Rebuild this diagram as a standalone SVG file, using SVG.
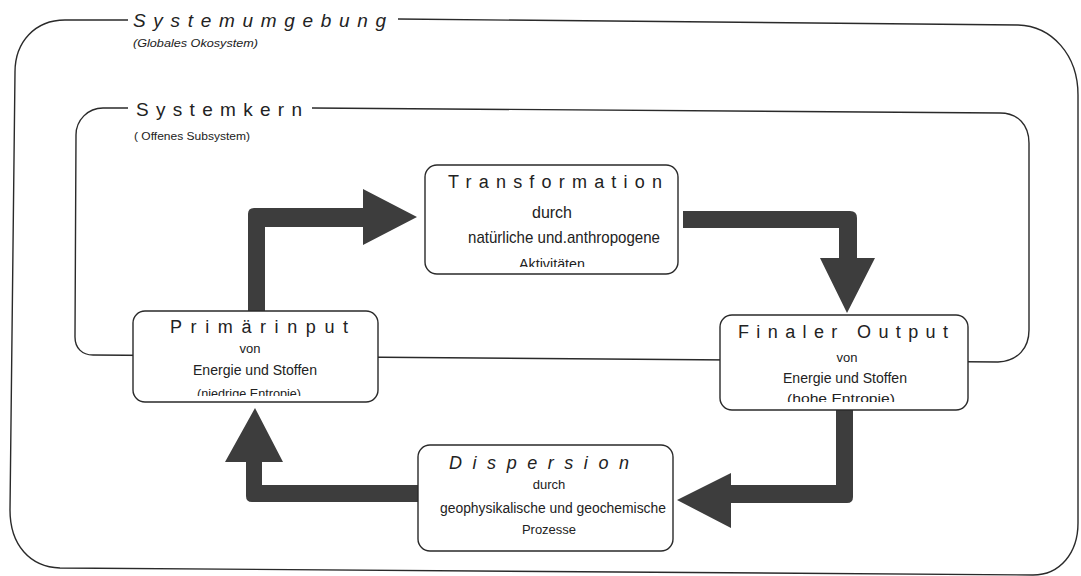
<svg xmlns="http://www.w3.org/2000/svg" width="1081" height="576" viewBox="0 0 1081 576">
  <style>
    .frame { fill: none; stroke: #2a2a2a; stroke-width: 1.4; }
    .box { fill: #ffffff; stroke: #2a2a2a; stroke-width: 1.4; }
    .flow { fill: #3d3d3d; stroke: none; }
    text { font-family: "Liberation Sans", Arial, sans-serif; fill: #222222; }
    .title { font-size: 19px; }
    .head { font-size: 18px; }
    .sub { font-size: 10px; }
    .line { font-size: 14px; }
    .small { font-size: 13px; }
    .it { font-style: italic; }
  </style>
  <defs>
    <clipPath id="clip-transformation"><rect x="425" y="165" width="253" height="102"/></clipPath>
    <clipPath id="clip-primaer"><rect x="133" y="311" width="245" height="85"/></clipPath>
    <clipPath id="clip-final"><rect x="720" y="315" width="248" height="87"/></clipPath>
  </defs>
  <rect width="1081" height="576" fill="#ffffff"/>

  <!-- outer system boundary: environment -->
  <g id="systemumgebung">
    <path class="frame" d="M398,19 L1018,25 C1052,26 1078,55 1078,95 L1078,523 C1078,553 1060,575 1033,575 L60,568 C30,567 10,545 10,510 L15,72 C15,42 35,20 65,20 L128,20"/>
    <text class="title it" x="133" y="27" textLength="253" lengthAdjust="spacing">Systemumgebung</text>
    <text class="sub it" x="133" y="47" textLength="125" lengthAdjust="spacingAndGlyphs">(Globales Okosystem)</text>
  </g>

  <!-- inner system boundary: core -->
  <g id="systemkern">
    <path class="frame" d="M312,108 L1000,113 C1018,113 1029,125 1029,143 L1029,330 C1029,348 1018,361 998,362 L93,355 C82,355 75,348 75,337 L76,135 C76,120 88,108 103,108 L128,108"/>
    <text class="title" x="136" y="116" textLength="166" lengthAdjust="spacing">Systemkern</text>
    <text class="sub" x="134" y="140" textLength="116" lengthAdjust="spacingAndGlyphs">( Offenes Subsystem)</text>
  </g>

  <!-- flow arrows between the stages -->
  <g id="connectors">
    <path class="flow" d="M248,311 L248,214 Q248,208 254,208 L363,208 L363,189 L417,217 L363,245 L363,227 L265,227 L265,311 Z"/>
    <path class="flow" d="M683,211 L850,211 Q857,211 857,218 L857,258 L875,258 L847,313 L820,258 L839,258 L839,228 L683,228 Z"/>
    <path class="flow" d="M836,410 L853,410 L853,497 Q853,503 847,503 L731,503 L731,528 L677,500 L731,473 L731,485 L836,485 Z"/>
    <path class="flow" d="M418,485 L418,502 L252,502 Q246,502 246,496 L246,462 L225,462 L255,408 L283,462 L262,462 L262,485 Z"/>
  </g>

  <g id="transformation">
    <rect class="box" x="425" y="165" width="253" height="109" rx="12"/>
    <text class="head" x="448" y="188" textLength="214" lengthAdjust="spacing">Transformation</text>
    <text class="line" x="552" y="218" text-anchor="middle" style="font-size:16px">durch</text>
    <text class="line" x="468" y="243" textLength="192" lengthAdjust="spacingAndGlyphs" style="font-size:17px">natürliche und.anthropogene</text>
    <text class="line" x="552" y="269" text-anchor="middle" textLength="66" lengthAdjust="spacingAndGlyphs" clip-path="url(#clip-transformation)">Aktivitäten</text>
  </g>

  <g id="primaerinput">
    <rect class="box" x="133" y="311" width="245" height="91" rx="12"/>
    <text class="head" x="170" y="333" textLength="178" lengthAdjust="spacing">Primärinput</text>
    <text class="small" x="250" y="353" text-anchor="middle">von</text>
    <text class="line" x="193" y="375" textLength="124" lengthAdjust="spacingAndGlyphs">Energie und Stoffen</text>
    <text class="small" x="197" y="398" textLength="104" lengthAdjust="spacingAndGlyphs" clip-path="url(#clip-primaer)">(niedrige Entropie)</text>
  </g>

  <g id="finaler-output">
    <rect class="box" x="720" y="315" width="248" height="95" rx="12"/>
    <text class="head" x="738" y="338" textLength="210" lengthAdjust="spacing">Finaler Output</text>
    <text class="small" x="847" y="362" text-anchor="middle">von</text>
    <text class="line" x="783" y="383" textLength="124" lengthAdjust="spacingAndGlyphs">Energie und Stoffen</text>
    <text class="small" x="787" y="403" textLength="108" lengthAdjust="spacingAndGlyphs" clip-path="url(#clip-final)">(hohe Entropie)</text>
  </g>

  <g id="dispersion">
    <rect class="box" x="418" y="445" width="255" height="106" rx="12"/>
    <text class="head it" x="449" y="469" textLength="180" lengthAdjust="spacing">Dispersion</text>
    <text class="small" x="549" y="489" text-anchor="middle">durch</text>
    <text class="line" x="440" y="513" textLength="226" lengthAdjust="spacingAndGlyphs">geophysikalische und geochemische</text>
    <text class="small" x="549" y="534" text-anchor="middle">Prozesse</text>
  </g>
</svg>
